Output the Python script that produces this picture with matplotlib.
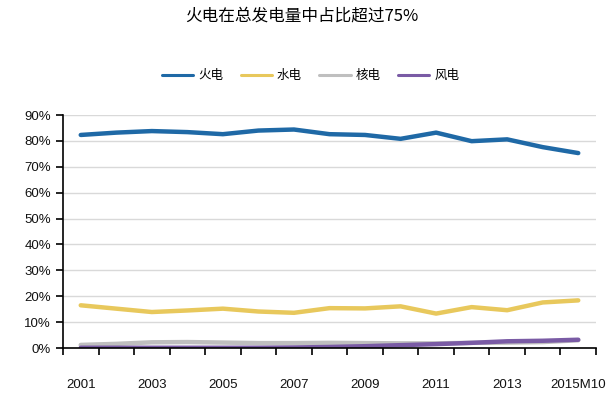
import matplotlib
matplotlib.use('Agg')
import numpy as np
import matplotlib.pyplot as plt
from matplotlib.ticker import FixedLocator, PercentFormatter

plt.rcParams['font.family'] = ['Liberation Sans', 'Noto Sans CJK SC', 'DejaVu Sans']

years = ['2001', '2002', '2003', '2004', '2005', '2006', '2007', '2008',
         '2009', '2010', '2011', '2012', '2013', '2014', '2015M10']
thermal = [82.3, 83.2, 83.8, 83.4, 82.6, 84.0, 84.4, 82.6, 82.3, 80.8, 83.2, 79.9, 80.6, 77.6, 75.3]
hydro   = [16.5, 15.2, 13.9, 14.5, 15.2, 14.1, 13.6, 15.4, 15.3, 16.1, 13.3, 15.8, 14.6, 17.6, 18.4]
nuclear = [1.2, 1.6, 2.2, 2.3, 2.1, 1.9, 1.9, 2.0, 1.9, 1.8, 1.8, 2.0, 2.1, 2.3, 3.0]
wind    = [0.1, 0.1, 0.1, 0.1, 0.1, 0.1, 0.2, 0.4, 0.7, 1.1, 1.5, 2.0, 2.6, 2.8, 3.2]

names = ['火电', '水电', '核电', '风电']
colors = ['#1F69A6', '#E8C85C', '#BFBFBF', '#7A5BA5']

fig = plt.figure(figsize=(6.09, 3.98), dpi=100)
ax = fig.add_axes([0.1034, 0.1256, 0.8753, 0.5854])

x = np.arange(len(years))
for vals, name, c in zip([thermal, hydro, nuclear, wind], names, colors):
    ax.plot(x, vals, color=c, lw=3.2, label=name, solid_capstyle='round')

ax.set_xlim(-0.5, len(years) - 0.5)
ax.set_ylim(0, 90)
ax.set_yticks(np.arange(0, 91, 10))
ax.yaxis.set_major_formatter(PercentFormatter(decimals=0))
ax.grid(axis='y', color='#D9D9D9', lw=1)
ax.set_axisbelow(True)

# category axis: ticks between years, labels on every second year
ax.xaxis.set_major_locator(FixedLocator(np.arange(-0.5, len(years), 1)))
ax.set_xticklabels([])
ax.xaxis.set_minor_locator(FixedLocator(x[::2]))
ax.set_xticklabels([years[i] for i in x[::2]], minor=True)
ax.tick_params(axis='x', which='minor', length=0, pad=22, labelsize=9.5)
ax.tick_params(axis='x', which='major', length=5, width=1.2, direction='out', color='black')
ax.tick_params(axis='y', length=5, width=1.2, labelsize=9.5, color='black')
for t in ax.get_xticklabels(minor=True) + ax.get_yticklabels():
    t.set_color('#111111')

for s in ['top', 'right']:
    ax.spines[s].set_visible(False)
ax.spines['left'].set_linewidth(1.2)
ax.spines['bottom'].set_linewidth(1.2)

fig.text(0.495, 0.96, '火电在总发电量中占比超过75%', ha='center', va='center', fontsize=12,
         family=['Noto Sans CJK SC', 'DejaVu Sans'])
leg = fig.legend(loc='center', bbox_to_anchor=(0.51, 0.81), ncol=4, frameon=False,
                 handlelength=2.5, columnspacing=1.4, handletextpad=0.4,
                 prop={'family': 'Noto Sans CJK SC', 'size': 9})
for line in leg.get_lines():
    line.set_linewidth(2.2)

plt.savefig('out.png', dpi=100)
print("Done")
